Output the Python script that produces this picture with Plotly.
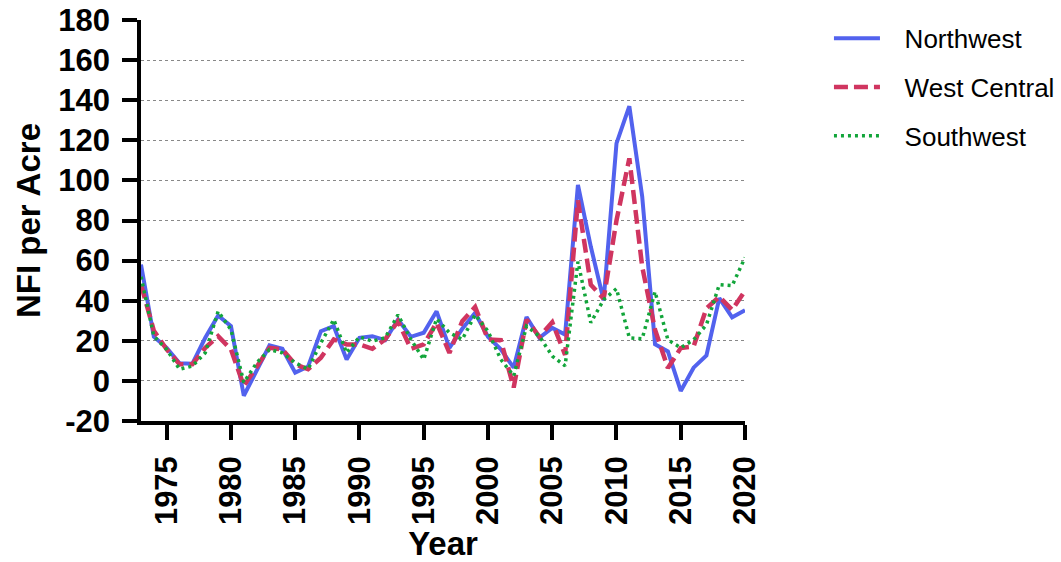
import plotly.graph_objects as go

years = list(range(1973, 2021))

northwest = [58, 22, 16.5, 8.8, 8.6, 21.5, 32.6, 27.3, -7.4, 5,
             17.7, 16, 4.1, 7.1, 24.8, 27.3, 10.7, 21.5, 22.3, 20.3,
             30.6, 22, 24, 34.7, 16.5, 26, 33.9, 22, 15.7, 6.6,
             31.9, 21.5, 26.4, 23.1, 97.8, 67, 40.2, 118.5, 137, 92,
             18.3, 14.7, -5, 6.6, 12.7, 41.3, 31.7, 35.2]

west_central = [48, 25, 15.7, 8.3, 8.3, 16.5, 22.3, 15.7, -2.5, 6.6,
                16.5, 15.7, 8.3, 5.8, 11.6, 20.7, 18.2, 18.2, 16, 20.7,
                29.8, 16, 18.2, 29, 14, 29.8, 36.9, 20.7, 20.3, -3.3,
                30.6, 22, 29.3, 13, 90, 48, 41, 80, 111, 57,
                25.5, 6.4, 16.4, 17.2, 36.2, 42, 35.4, 45]

southwest = [52, 22.3, 15.7, 5.8, 7.4, 14, 34.7, 25.6, -0.8, 9,
             15.7, 14, 9, 5.8, 19, 30.6, 14, 22, 19.8, 21.5,
             33, 20.7, 10.7, 31, 24, 20.7, 33, 24.8, 10.7, 2.5,
             27.3, 22.3, 12.4, 7.5, 59.5, 29, 40.5, 46, 21.5, 21,
             44.5, 20.5, 16.5, 20.5, 28, 48, 47.5, 61.5]

x_ticks = [1975, 1980, 1985, 1990, 1995, 2000, 2005, 2010, 2015, 2020]
y_ticks = [-20, 0, 20, 40, 60, 80, 100, 120, 140, 160, 180]
y_tick_labels = ["-20", "0", "20", "40", "60", "80", "100", "120", "140", "160", "180"]

series = [
    ("Northwest", northwest, dict(color="#5262EE", width=4, dash="solid")),
    ("West Central", west_central, dict(color="#D03560", width=4.5, dash="14px,6px")),
    ("Southwest", southwest, dict(color="#12A53A", width=3.5, dash="3px,4px")),
]

fig = go.Figure()
for i, (name, vals, line) in enumerate(series):
    fig.add_trace(go.Scatter(x=years, y=vals, mode="lines",
                             name="\u00a0\u00a0\u2009" + name,
                             line=line, legendgroup=f"g{i}"))

FAM = "Liberation Sans, Arial, sans-serif"
bold = dict(family=FAM, size=31, color="black", weight="bold")
title_font = dict(family=FAM, size=33, color="black", weight="bold")

fig.update_layout(
    width=1061, height=562,
    margin=dict(l=141, r=316, t=20, b=141, autoexpand=False),
    paper_bgcolor="white", plot_bgcolor="white",
    showlegend=True,
    legend=dict(x=1.139, y=1.013, xanchor="left", yanchor="top",
                font=dict(family=FAM, size=26, color="black"),
                tracegroupgap=12, itemwidth=46, bgcolor="rgba(0,0,0,0)"),
    xaxis=dict(range=[1973, 2020], tickvals=x_ticks, tickangle=-90,
               showline=True, linecolor="black", linewidth=3.5,
               ticks="outside", ticklen=15, tickwidth=3.5, tickcolor="black",
               tickfont=bold, showgrid=False, zeroline=False, automargin=False,
               ticklabelstandoff=4,
               title=dict(text="Year", font=title_font, standoff=10)),
    yaxis=dict(range=[-20, 180], tickvals=y_ticks, ticktext=y_tick_labels,
               showline=True, linecolor="black", linewidth=3.5,
               ticks="outside", ticklen=15, tickwidth=3.5, tickcolor="black",
               tickfont=bold, showgrid=True, gridcolor="#888888", gridwidth=1,
               griddash="dot", zeroline=False, automargin=False, ticklabelstandoff=6,
               title=dict(text="NFI per Acre", font=title_font, standoff=9)),
)

fig.write_html("out.html", config={"displayModeBar": False},
               post_script="document.body.style.margin='0';document.body.style.padding='0';")
